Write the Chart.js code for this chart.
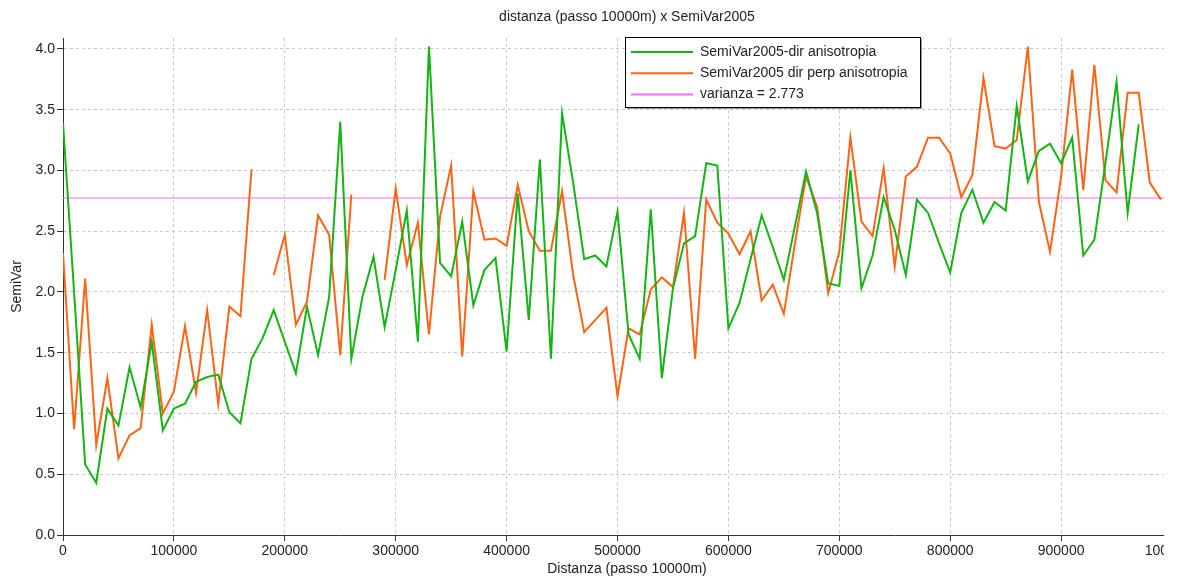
<!DOCTYPE html>
<html>
<head>
<meta charset="utf-8">
<script src="https://cdn.jsdelivr.net/npm/chart.js@4.4.1/dist/chart.umd.min.js"></script>
<style>
  html, body { margin: 0; padding: 0; background: #fff; overflow: hidden; }
  #wrap { width: 1164px; height: 581px; overflow: hidden; }
  canvas { display: block; }
</style>
</head>
<body>
<div id="wrap"><canvas id="semivarChart" width="1200" height="581"></canvas></div>
<script>
// passo di 10000 m, da 0 a 1000000
const passo = 10000;
const nPassi = 101;

const titolo = 'distanza (passo 10000m) x SemiVar2005';
const titoloX = 'Distanza (passo 10000m)';
const titoloY = 'SemiVar';

const etichette = ['SemiVar2005-dir anisotropia', 'SemiVar2005 dir perp anisotropia', 'varianza = 2.773'];
const colori = ['#14b414', '#ff6414', '#ff66ff'];

const varianza = 2.773;

const semiVarDir = [
  3.39, 2.00, 0.58, 0.43, 1.04, 0.90, 1.38, 1.05, 1.59, 0.86,
  1.04, 1.08, 1.26, 1.30, 1.32, 1.01, 0.92, 1.45, 1.62, 1.85,
  1.59, 1.33, 1.88, 1.48, 1.96, 3.40, 1.45, 1.96, 2.29, 1.71,
  2.18, 2.67, 1.59, 4.02, 2.24, 2.13, 2.58, 1.89, 2.18, 2.28,
  1.51, 2.81, 1.77, 3.09, 1.45, 3.47, 2.90, 2.27, 2.30, 2.21,
  2.66, 1.65, 1.45, 2.68, 1.29, 2.03, 2.40, 2.46, 3.06, 3.04,
  1.70, 1.91, 2.27, 2.63, 2.37, 2.10, 2.54, 2.99, 2.65, 2.07,
  2.05, 3.00, 2.03, 2.30, 2.78, 2.51, 2.14, 2.76, 2.65, 2.40,
  2.16, 2.65, 2.84, 2.57, 2.74, 2.67, 3.53, 2.91, 3.16, 3.22,
  3.06, 3.27, 2.30, 2.43, 3.06, 3.73, 2.65, 3.38, null, null,
  null
];

const semiVarPerp = [
  2.32, 0.87, 2.11, 0.74, 1.29, 0.63, 0.82, 0.88, 1.73, 1.00,
  1.18, 1.72, 1.17, 1.85, 1.08, 1.88, 1.80, 3.01, null, 2.14,
  2.47, 1.73, 1.92, 2.63, 2.47, 1.48, 2.80, null, null, 2.10,
  2.85, 2.22, 2.57, 1.65, 2.62, 3.04, 1.47, 2.83, 2.43, 2.44,
  2.38, 2.88, 2.50, 2.34, 2.34, 2.83, 2.14, 1.67, 1.77, 1.87,
  1.14, 1.70, 1.65, 2.02, 2.12, 2.04, 2.65, 1.45, 2.76, 2.57,
  2.48, 2.31, 2.50, 1.93, 2.06, 1.82, 2.40, 2.95, 2.70, 1.99,
  2.33, 3.27, 2.58, 2.46, 3.02, 2.21, 2.95, 3.03, 3.27, 3.27,
  3.14, 2.78, 2.96, 3.76, 3.20, 3.18, 3.25, 4.02, 2.74, 2.33,
  2.95, 3.83, 2.84, 3.87, 2.92, 2.82, 3.64, 3.64, 2.90, 2.76,
  null
];

const distanze = Array.from({ length: nPassi }, (_, i) => i * passo);

const font = '"Liberation Sans", Arial, sans-serif';
const testo = '#222';

// titolo, titolo asse x e legenda con riquadro
const titoloLegenda = {
  id: 'titoloLegenda',
  afterDraw(chart) {
    const ctx = chart.ctx;
    ctx.save();
    ctx.font = '14px ' + font;
    ctx.fillStyle = testo;
    ctx.textAlign = 'center';
    ctx.textBaseline = 'middle';
    ctx.fillText(titolo, 627, 17);
    ctx.fillText(titoloX, 627, 569);

    const bx = 625, by = 37, bw = 295, bh = 70;
    ctx.fillStyle = '#fff';
    ctx.fillRect(bx, by, bw, bh);
    ctx.strokeStyle = '#000';
    ctx.lineWidth = 1;
    ctx.strokeRect(bx + 0.5, by + 0.5, bw, bh);
    ctx.strokeStyle = '#999';
    ctx.beginPath();
    ctx.moveTo(bx + bw + 1.5, by + 2);
    ctx.lineTo(bx + bw + 1.5, by + bh + 1.5);
    ctx.lineTo(bx + 2, by + bh + 1.5);
    ctx.stroke();

    ctx.textAlign = 'left';
    chart.data.datasets.forEach((ds, i) => {
      const y = by + 15 + i * 21.3;
      ctx.strokeStyle = ds.borderColor;
      ctx.lineWidth = 2;
      ctx.beginPath();
      ctx.moveTo(631, y);
      ctx.lineTo(693, y);
      ctx.stroke();
      ctx.fillStyle = testo;
      ctx.fillText(ds.label, 700, y);
    });
    ctx.restore();
  }
};

const ctx = document.getElementById('semivarChart').getContext('2d');
new Chart(ctx, {
  type: 'line',
  data: {
    datasets: [
      {
        label: etichette[0],
        data: distanze.map((d, i) => ({ x: d, y: semiVarDir[i] })),
        borderColor: colori[0],
        borderWidth: 2
      },
      {
        label: etichette[1],
        data: distanze.map((d, i) => ({ x: d, y: semiVarPerp[i] })),
        borderColor: colori[1],
        borderWidth: 2
      },
      {
        label: etichette[2],
        data: [{ x: distanze[0], y: varianza }, { x: distanze[nPassi - 1], y: varianza }],
        borderColor: colori[2],
        borderWidth: 1
      }
    ]
  },
  options: {
    responsive: false,
    animation: false,
    devicePixelRatio: 1,
    spanGaps: false,
    elements: {
      point: { radius: 0 },
      line: { tension: 0, borderJoinStyle: 'miter' }
    },
    layout: { padding: { top: 38, right: 28, left: 0, bottom: 0 } },
    plugins: {
      legend: { display: false },
      title: { display: false },
      tooltip: { enabled: false }
    },
    scales: {
      x: {
        type: 'linear',
        min: 0,
        max: 1000000,
        ticks: {
          stepSize: 100000,
          color: testo,
          font: { family: font, size: 14 },
          padding: 2,
          maxRotation: 0,
          callback: v => String(v)
        },
        grid: {
          color: '#c8c8c8',
          tickColor: '#333',
          tickLength: 6,
          tickBorderDash: []
        },
        border: { color: '#333', width: 1, dash: [3, 3] },
        afterFit(scale) {
          scale.height = 46;
          scale.paddingLeft = 0;
          scale.paddingRight = 0;
        }
      },
      y: {
        min: 0,
        max: 4.09,
        ticks: {
          stepSize: 0.5,
          includeBounds: false,
          color: testo,
          font: { family: font, size: 14 },
          padding: 2,
          callback: v => v.toFixed(1)
        },
        grid: {
          color: '#c8c8c8',
          tickColor: '#333',
          tickLength: 6,
          tickBorderDash: []
        },
        border: { color: '#333', width: 1, dash: [3, 3] },
        title: {
          display: true,
          text: titoloY,
          color: testo,
          font: { family: font, size: 14 },
          padding: { top: 9, bottom: 0 }
        },
        afterFit(scale) {
          scale.width = 63;
        }
      }
    }
  },
  plugins: [titoloLegenda]
});
</script>
</body>
</html>
